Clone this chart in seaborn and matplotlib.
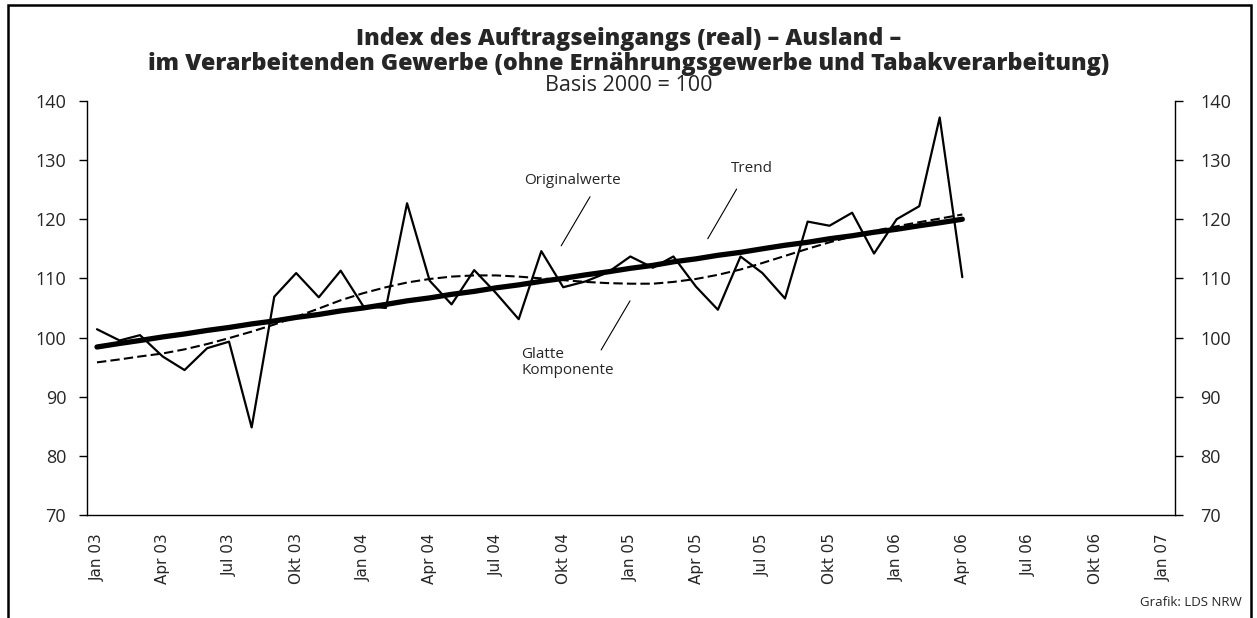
import matplotlib.pyplot as plt
import matplotlib.patches as patches
import pandas as pd
import seaborn as sns

# monthly values Jan 2003 - Apr 2006
original = [101.4, 99.5, 100.4, 96.8, 94.5, 98.2, 99.3, 84.8, 106.9, 110.9, 106.8, 111.3,
            105.3, 105.0, 122.7, 109.6, 105.6, 111.4, 107.5, 103.1, 114.6, 108.5, 109.5, 111.0,
            113.7, 111.8, 113.7, 108.6, 104.7, 113.7, 110.9, 106.6, 119.6, 118.9, 121.1, 114.2,
            120.0, 122.2, 137.2, 110.2]
glatt = [95.8, 96.3, 96.8, 97.3, 98.0, 98.9, 99.9, 101.0, 102.2, 103.5, 104.9, 106.3,
         107.5, 108.5, 109.3, 109.9, 110.3, 110.5, 110.5, 110.3, 110.0, 109.7, 109.4, 109.2,
         109.1, 109.1, 109.4, 109.9, 110.6, 111.5, 112.6, 113.8, 115.0, 116.1, 117.1, 118.0,
         118.8, 119.5, 120.1, 120.8]
trend = [98.4, 99.0, 99.5, 100.1, 100.6, 101.2, 101.7, 102.3, 102.8, 103.4, 103.9, 104.5,
         105.0, 105.6, 106.2, 106.7, 107.3, 107.8, 108.4, 108.9, 109.5, 110.0, 110.6, 111.1,
         111.7, 112.2, 112.8, 113.3, 113.9, 114.4, 115.0, 115.6, 116.1, 116.7, 117.2, 117.8,
         118.3, 118.9, 119.4, 120.0]
tick_labels = ["Jan 03", "Apr 03", "Jul 03", "Okt 03", "Jan 04", "Apr 04", "Jul 04", "Okt 04",
               "Jan 05", "Apr 05", "Jul 05", "Okt 05", "Jan 06", "Apr 06", "Jul 06", "Okt 06", "Jan 07"]
y_ticks = [70, 80, 90, 100, 110, 120, 130, 140]

months = pd.date_range("2003-01-01", periods=len(original), freq="MS")
df = pd.DataFrame({"Monat": months, "Originalwerte": original,
                   "Glatte Komponente": glatt, "Trend": trend})
tick_dates = pd.date_range("2003-01-01", "2007-01-01", freq="QS")

sns.set_theme(style="white")
plt.rcParams["font.family"] = ["Open Sans", "DejaVu Sans"]


def d(m):
    # months after Jan 2003 -> date
    return pd.Timestamp("2003-01-01") + pd.Timedelta(days=30.44 * m)


fig = plt.figure(figsize=(12.57, 6.18), dpi=100)
ax = fig.add_axes([0.0692, 0.1667, 0.8656, 0.67])

sns.lineplot(data=df, x="Monat", y="Originalwerte", ax=ax, color="black", lw=1.6)
sns.lineplot(data=df, x="Monat", y="Trend", ax=ax, color="black", lw=3.8)
sns.lineplot(data=df, x="Monat", y="Glatte Komponente", ax=ax, color="black", lw=1.5,
             linestyle=(0, (4.5, 2)))

ax.set_xlim(d(-0.45), d(48.54))
ax.set_ylim(70, 140)
ax.set_xticks(tick_dates)
ax.set_xticklabels(tick_labels, rotation=90, fontsize=11, family="DejaVu Sans")
ax.set_yticks(y_ticks)
ax.tick_params(axis="y", left=True, length=6, width=1, labelsize=13, pad=9, color="black")
ax.tick_params(axis="x", bottom=False, pad=7)
ax.set_xlabel("")
ax.set_ylabel("")
for side in ["left", "right", "bottom"]:
    ax.spines[side].set_color("black")
    ax.spines[side].set_linewidth(1)
ax.spines["top"].set_visible(False)

ax2 = ax.twinx()
ax2.set_ylim(70, 140)
ax2.set_yticks(y_ticks)
ax2.tick_params(axis="y", right=True, length=6, width=1, labelsize=13, pad=12, color="black")
for side in ["left", "right", "bottom", "top"]:
    ax2.spines[side].set_visible(False)
ax2.grid(False)

# annotations
ax.text(d(21.4), 126.6, "Originalwerte", ha="center", va="center", fontsize=11)
ax.plot([d(22.2), d(20.9)], [123.8, 115.5], color="black", lw=0.8)
ax.text(d(19.1), 95.8, "Glatte\nKomponente", ha="left", va="center", fontsize=11, linespacing=1.15)
ax.plot([d(24.0), d(22.7)], [106.2, 97.9], color="black", lw=0.8)
ax.text(d(29.5), 128.5, "Trend", ha="center", va="center", fontsize=11)
ax.plot([d(28.8), d(27.5)], [125.1, 116.7], color="black", lw=0.8)

fig.text(0.5, 0.937, "Index des Auftragseingangs (real) – Ausland –",
         ha="center", va="center", fontsize=16.8, fontweight=900)
fig.text(0.5, 0.897, "im Verarbeitenden Gewerbe (ohne Ernährungsgewerbe und Tabakverarbeitung)",
         ha="center", va="center", fontsize=16.8, fontweight=900)
fig.text(0.5, 0.861, "Basis 2000 = 100", ha="center", va="center", fontsize=15.5)
fig.text(0.988, 0.025, "Grafik: LDS NRW", ha="right", va="center", fontsize=9.5)

fig.patches.append(patches.Rectangle((0.0064, -0.05), 0.989, 1.042, transform=fig.transFigure,
                                     fill=False, edgecolor="black", lw=1.8))

fig.savefig("out.png", dpi=100)
